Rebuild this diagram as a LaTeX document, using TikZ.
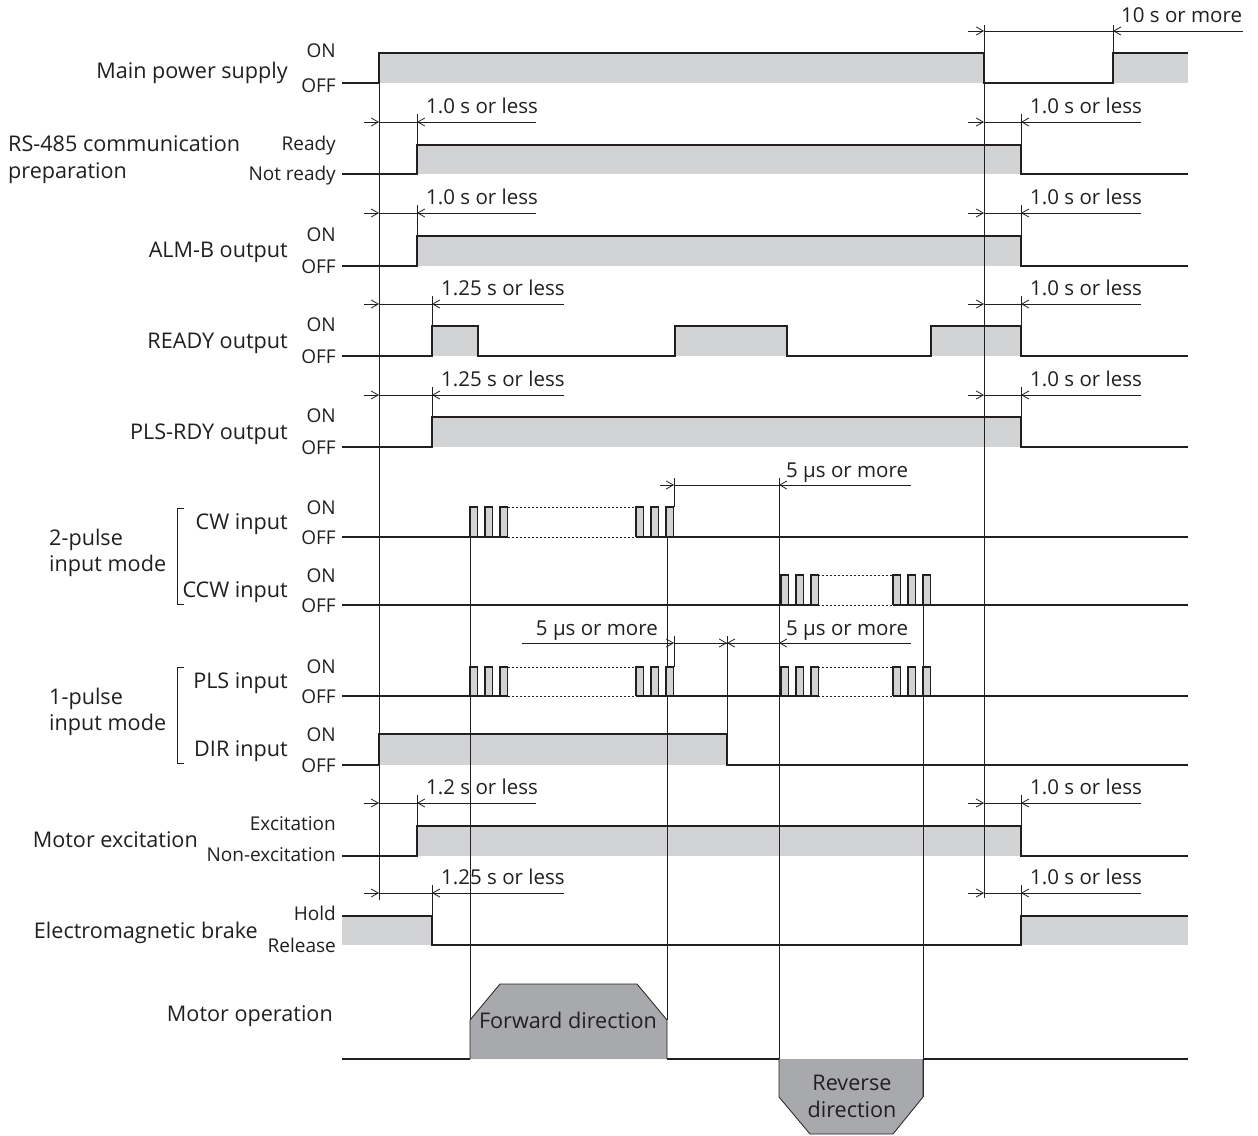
\documentclass[tikz,border=0pt]{standalone}
\usepackage{fontspec}
\setmainfont{Open Sans}
\usetikzlibrary{arrows.meta}
\definecolor{lg}{HTML}{D1D3D4}
\definecolor{dg}{HTML}{A7A9AC}
\definecolor{ink}{HTML}{231F20}
\tikzset{
  sig/.style={draw=ink, line width=1.3pt, line join=miter},
  guide/.style={draw=ink, line width=0.8pt},
  dimtip/.style={draw=ink, line width=0.8pt, -{Straight Barb[length=7pt,width=8pt,line width=0.8pt]}},
  dotsl/.style={draw=ink, line width=0.8pt, dash pattern=on 2pt off 2pt},
  title/.style={inner sep=0pt, text=ink, font=\fontsize{21.6}{26}\selectfont},
  lvl/.style={inner sep=0pt, text=ink, font=\fontsize{19}{23}\selectfont, anchor=base east},
  dimtxt/.style={inner sep=0pt, text=ink, font=\fontsize{20.5}{25}\selectfont, anchor=base west},
}
\newcommand\PulseGrp[3]{%
  \foreach \k in {0,1,2}{%
    \fill[lg] ({#1+15*\k},#2) rectangle ({#1+15*\k+7.5},#3);
    \draw[sig] ({#1+15*\k},#3) -- ({#1+15*\k},#2) -- ({#1+15*\k+7.5},#2) -- ({#1+15*\k+7.5},#3);
  }}
\newcommand\LeftDim[5]{%
  \draw[dimtip] (364,#1) -- (379,#1);
  \draw[guide] (379,#1) -- (#2,#1);
  \draw[dimtip] (#3,#1) -- (#2,#1);
  \node[dimtxt] (#5) at ({#2+9},{#1-9}) {#4};}
\newcommand\RightDim[2]{%
  \draw[dimtip] (968,#1) -- (984,#1);
  \draw[guide] (984,#1) -- (1021,#1);
  \draw[dimtip] (1141,#1) -- (1021,#1);
  \node[dimtxt] (#2) at (1030,{#1-9}) {1.0 s or less};}
\begin{document}
\begin{tikzpicture}[x=1pt,y=-1pt]
\useasboundingbox (0,0) rectangle (1258,1135);
\fill[white] (0,0) rectangle (1258,1135);

% ---------- fills ----------
\fill[lg] (379,53) rectangle (984,83);
\fill[lg] (1113,53) rectangle (1188,83);
\fill[lg] (417,145) rectangle (1021,174);
\fill[lg] (417,236) rectangle (1021,266);
\fill[lg] (432,326) rectangle (478,356);
\fill[lg] (675,326) rectangle (787,356);
\fill[lg] (931,326) rectangle (1021,356);
\fill[lg] (432,417) rectangle (1021,447);
\fill[lg] (379,734) rectangle (727,765);
\fill[lg] (417,826) rectangle (1021,856);
\fill[lg] (342,916) rectangle (432,945);
\fill[lg] (1021,916) rectangle (1188,945);

% ---------- guide lines ----------
\draw[guide] (379,53) -- (379,900);
\draw[guide] (984,25) -- (984,898);
\draw[guide] (1113,25) -- (1113,53);
\foreach \yy/\yt in {114/145,205/236,795/826}{\draw[guide] (417,\yy) -- (417,\yt);}
\foreach \yy/\yt in {296/326,387/417,885/916}{\draw[guide] (432,\yy) -- (432,\yt);}
\foreach \yy/\yt in {114/145,205/236,296/326,387/417,795/826,885/916}{\draw[guide] (1021,\yy) -- (1021,\yt);}
\draw[guide] (470,507) -- (470,1020);
\draw[guide] (667,507) -- (667,1020);
\draw[guide] (674,478) -- (674,507);
\draw[guide] (674,636) -- (674,667);
\draw[guide] (727,636) -- (727,734);
\draw[guide] (779,478) -- (779,1097);
\draw[guide] (923,575) -- (923,1097);

% ---------- waveforms ----------
\draw[sig] (342,83) -- (379,83) -- (379,53) -- (984,53) -- (984,83) -- (1113,83) -- (1113,53) -- (1188,53);
\draw[sig] (342,174) -- (417,174) -- (417,145) -- (1021,145) -- (1021,174) -- (1188,174);
\draw[sig] (342,266) -- (417,266) -- (417,236) -- (1021,236) -- (1021,266) -- (1188,266);
\draw[sig] (342,356) -- (432,356) -- (432,326) -- (478,326) -- (478,356) -- (675,356) -- (675,326) -- (787,326) -- (787,356) -- (931,356) -- (931,326) -- (1021,326) -- (1021,356) -- (1188,356);
\draw[sig] (342,447) -- (432,447) -- (432,417) -- (1021,417) -- (1021,447) -- (1188,447);
% CW
\PulseGrp{470}{507}{537}
\PulseGrp{636}{507}{537}
\draw[sig] (342,537) -- (508,537);
\draw[sig] (636,537) -- (1188,537);
\draw[dotsl] (508,507) -- (636,507);
\draw[dotsl] (508,537) -- (636,537);
% CCW
\PulseGrp{781}{575}{605}
\PulseGrp{893}{575}{605}
\draw[sig] (342,605) -- (818,605);
\draw[sig] (893,605) -- (1188,605);
\draw[dotsl] (818,575) -- (893,575);
\draw[dotsl] (818,605) -- (893,605);
% PLS
\PulseGrp{470}{667}{696}
\PulseGrp{636}{667}{696}
\PulseGrp{781}{667}{696}
\PulseGrp{893}{667}{696}
\draw[sig] (342,696) -- (508,696);
\draw[sig] (636,696) -- (818,696);
\draw[sig] (893,696) -- (1188,696);
\draw[dotsl] (508,667) -- (636,667);
\draw[dotsl] (508,696) -- (636,696);
\draw[dotsl] (818,667) -- (893,667);
\draw[dotsl] (818,696) -- (893,696);
% DIR
\draw[sig] (342,765) -- (379,765) -- (379,734) -- (727,734) -- (727,765) -- (1188,765);
% excitation
\draw[sig] (342,856) -- (417,856) -- (417,826) -- (1021,826) -- (1021,856) -- (1188,856);
% brake
\draw[sig] (342,916) -- (432,916) -- (432,945) -- (1021,945) -- (1021,916) -- (1188,916);
% motor operation
\fill[dg] (470,1059) -- (470,1020) -- (500,984) -- (637,984) -- (667,1020) -- (667,1059) -- cycle;
\draw[guide] (470,1059) -- (470,1020) -- (500,984) -- (637,984) -- (667,1020) -- (667,1059);
\fill[dg] (779,1059) -- (779,1097) -- (810,1134) -- (893,1134) -- (923,1097) -- (923,1059) -- cycle;
\draw[guide] (779,1059) -- (779,1097) -- (810,1134) -- (893,1134) -- (923,1097) -- (923,1059);
\draw[sig] (342,1059) -- (470,1059);
\draw[sig] (667,1059) -- (779,1059);
\draw[sig] (923,1059) -- (1188,1059);
\node[title, anchor=base] (fwd) at (568,1028) {Forward direction};
\node[title, anchor=base] (rev1) at (852,1090) {Reverse};
\node[title, anchor=base] (rev2) at (852,1117) {direction};

% ---------- dimensions ----------
\draw[dimtip] (968,31) -- (984,31);
\draw[guide] (984,31) -- (1113,31);
\draw[dimtip] (1243,31) -- (1113,31);
\node[dimtxt] (d10) at (1121,23) {10 s or more};

\LeftDim{122}{417}{536}{1.0 s or less}{dl1}
\RightDim{122}{dr1}
\LeftDim{213}{417}{536}{1.0 s or less}{dl2}
\RightDim{213}{dr2}
\LeftDim{304}{432}{564}{1.25 s or less}{dl3}
\RightDim{304}{dr3}
\LeftDim{395}{432}{564}{1.25 s or less}{dl4}
\RightDim{395}{dr4}
\LeftDim{803}{417}{536}{1.2 s or less}{dl5}
\RightDim{803}{dr5}
\LeftDim{893}{432}{564}{1.25 s or less}{dl6}
\RightDim{893}{dr6}

% 5 us dimensions
\draw[dimtip] (660,485) -- (674,485);
\draw[guide] (674,485) -- (779,485);
\draw[dimtip] (911,485) -- (779,485);
\node[dimtxt] (u1) at (786,477) {5 µs or more};

\draw[dimtip] (522,643) -- (674,643);
\draw[guide] (674,643) -- (779,643);
\draw[dimtip] (741,643) -- (727,643);
\draw[dimtip] (713,643) -- (727,643);
\draw[dimtip] (911,643) -- (779,643);
\node[dimtxt, anchor=base east] (u2) at (658,635) {5 µs or more};
\node[dimtxt] (u3) at (786,635) {5 µs or more};

% ---------- brackets ----------
\draw[guide] (184,508) -- (177,508) -- (177,604) -- (184,604);
\draw[guide] (184,667) -- (177,667) -- (177,763) -- (184,763);

% ---------- titles ----------
\node[title, anchor=base east] (t1) at (288,78) {Main power supply};
\node[title, anchor=base west] (t2a) at (8,151) {RS-485 communication};
\node[title, anchor=base west] (t2b) at (8,178) {preparation};
\node[title, anchor=base east] (t3) at (288,257) {ALM-B output};
\node[title, anchor=base east] (t4) at (288,348) {READY output};
\node[title, anchor=base east] (t5) at (288,439) {PLS-RDY output};
\node[title, anchor=base east] (t6) at (288,529) {CW input};
\node[title, anchor=base east] (t7) at (288,597) {CCW input};
\node[title, anchor=base east] (t8) at (288,688) {PLS input};
\node[title, anchor=base east] (t9) at (288,756) {DIR input};
\node[title, anchor=base west] (g1a) at (49,545) {2-pulse};
\node[title, anchor=base west] (g1b) at (49,571) {input mode};
\node[title, anchor=base west] (g2a) at (49,704) {1-pulse};
\node[title, anchor=base west] (g2b) at (49,730) {input mode};
\node[title, anchor=base east] (t10) at (198,847) {Motor excitation};
\node[title, anchor=base east] (t11) at (258,938) {Electromagnetic brake};
\node[title, anchor=base east] (t12) at (333,1021) {Motor operation};

% ---------- level labels ----------
\node[lvl] (l1a) at (336,57) {ON};
\node[lvl] (l1b) at (336,92) {OFF};
\node[lvl] (l2a) at (336,150) {Ready};
\node[lvl] (l2b) at (336,180) {Not ready};
\node[lvl] (l3a) at (336,241) {ON};
\node[lvl] (l3b) at (336,273) {OFF};
\node[lvl] (l4a) at (336,331) {ON};
\node[lvl] (l4b) at (336,363) {OFF};
\node[lvl] (l5a) at (336,422) {ON};
\node[lvl] (l5b) at (336,454) {OFF};
\node[lvl] (l6a) at (336,514) {ON};
\node[lvl] (l6b) at (336,544) {OFF};
\node[lvl] (l7a) at (336,582) {ON};
\node[lvl] (l7b) at (336,612) {OFF};
\node[lvl] (l8a) at (336,673) {ON};
\node[lvl] (l8b) at (336,703) {OFF};
\node[lvl] (l9a) at (336,741) {ON};
\node[lvl] (l9b) at (336,772) {OFF};
\node[lvl] (l10a) at (336,830) {Excitation};
\node[lvl] (l10b) at (336,861) {Non-excitation};
\node[lvl] (l11a) at (336,920) {Hold};
\node[lvl] (l11b) at (336,952) {Release};
\end{tikzpicture}
\end{document}
